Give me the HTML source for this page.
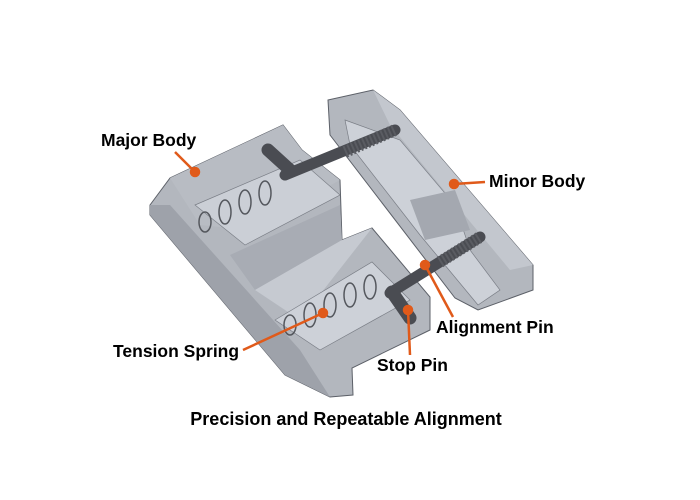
<!DOCTYPE html>
<html><head><style>
body{margin:0;background:#fff;width:700px;height:500px;overflow:hidden}
svg{display:block}
text{font-family:"Liberation Sans",Arial,sans-serif;font-weight:bold;fill:#000}
</style></head><body>
<svg width="700" height="500" viewBox="0 0 700 500">
<!-- minor body -->
<polygon points="328,100 373,90 400,110 533,265 533,290 478,310 455,298 330,135" fill="#b3b7be" stroke="#5c6068" stroke-width="1"/>
<polygon points="373,90 400,110 533,265 510,270 390,125" fill="#c3c7ce"/>
<polygon points="345,120 400,140 455,205 470,250 500,290 478,305 420,235 350,145" fill="#cdd1d8" stroke="#7a7e86" stroke-width="0.7"/>
<polygon points="410,200 455,190 470,230 425,240" fill="#a4a8b0"/>
<!-- major body -->
<polygon points="170,178 283,125 302,150 340,180 342,240 372,228 430,297 430,330 352,368 353,395 330,397 285,375 150,215 150,205" fill="#b3b7be" stroke="#5c6068" stroke-width="1"/>
<polygon points="170,178 283,125 302,150 340,180 250,230 200,225" fill="#b8bcc3"/>
<polygon points="195,205 300,160 340,195 245,245" fill="#cbcfd6" stroke="#7a7e86" stroke-width="0.7"/>
<polygon points="230,255 340,205 342,240 255,290" fill="#a8acb4"/>
<polygon points="255,290 342,240 372,228 300,320" fill="#c6cad1"/>
<polygon points="275,320 372,262 410,300 320,350" fill="#cdd1d8" stroke="#7a7e86" stroke-width="0.7"/>
<polygon points="150,205 150,215 285,375 330,397 300,350 170,205" fill="#9ea2aa"/>
<!-- pins -->
<line x1="285" y1="175" x2="395" y2="130" stroke="#4a4c52" stroke-width="11" stroke-linecap="round"/>
<line x1="345" y1="152" x2="395" y2="130" stroke="#5a5c62" stroke-width="12" stroke-dasharray="2,2"/>
<line x1="390" y1="293" x2="480" y2="237" stroke="#4a4c52" stroke-width="11" stroke-linecap="round"/>
<line x1="440" y1="262" x2="480" y2="237" stroke="#5a5c62" stroke-width="12" stroke-dasharray="2,2"/>
<line x1="268" y1="150" x2="290" y2="170" stroke="#4a4c52" stroke-width="13" stroke-linecap="round"/>
<line x1="392" y1="292" x2="410" y2="318" stroke="#4a4c52" stroke-width="13" stroke-linecap="round"/>
<!-- springs -->
<g fill="none" stroke="#55585e" stroke-width="1.5">
<ellipse cx="205" cy="222" rx="6" ry="10"/><ellipse cx="225" cy="212" rx="6" ry="12"/><ellipse cx="245" cy="202" rx="6" ry="12"/><ellipse cx="265" cy="193" rx="6" ry="12"/>
<ellipse cx="290" cy="325" rx="6" ry="10"/><ellipse cx="310" cy="315" rx="6" ry="12"/><ellipse cx="330" cy="305" rx="6" ry="12"/><ellipse cx="350" cy="295" rx="6" ry="12"/><ellipse cx="370" cy="287" rx="6" ry="12"/>
</g>
<!-- leaders -->
<g stroke="#e05a1a" stroke-width="2.5" fill="#e05a1a">
<line x1="175" y1="152" x2="195" y2="172"/><circle cx="195" cy="172" r="4"/>
<line x1="485" y1="182" x2="454" y2="184"/><circle cx="454" cy="184" r="4"/>
<line x1="453" y1="317" x2="425" y2="265"/><circle cx="425" cy="265" r="4"/>
<line x1="243" y1="350" x2="323" y2="313"/><circle cx="323" cy="313" r="4"/>
<line x1="410" y1="355" x2="408" y2="310"/><circle cx="408" cy="310" r="4"/>
</g>
<text x="101" y="146" font-size="17.5">Major Body</text>
<text x="489" y="187" font-size="17.5">Minor Body</text>
<text x="436" y="333" font-size="17.5">Alignment Pin</text>
<text x="113" y="357" font-size="17.5">Tension Spring</text>
<text x="377" y="371" font-size="17.5">Stop Pin</text>
<text x="346" y="425" font-size="18" text-anchor="middle">Precision and Repeatable Alignment</text>
</svg>
</body></html>
